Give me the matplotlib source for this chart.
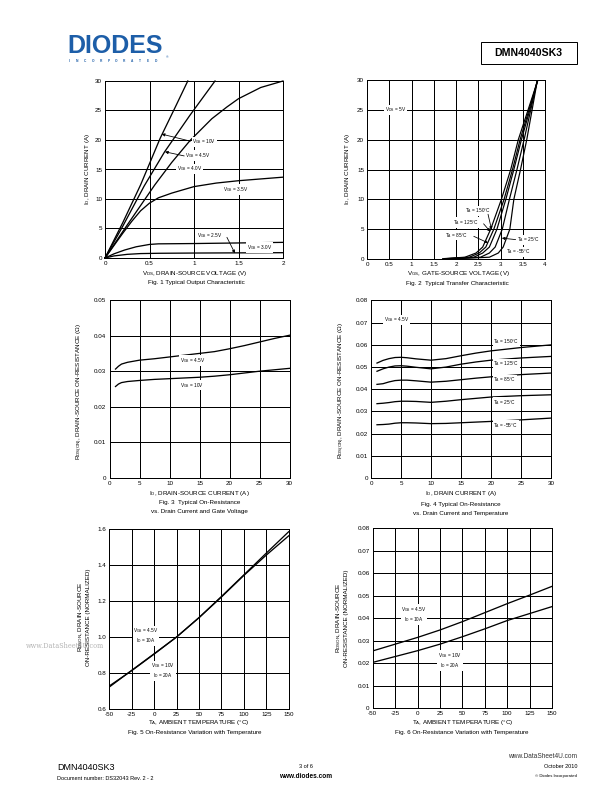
import matplotlib
matplotlib.use("Agg")
import matplotlib.pyplot as plt
from matplotlib.patches import Rectangle
from matplotlib.lines import Line2D

plt.rcParams['font.family'] = ['Liberation Sans', 'DejaVu Sans']
plt.rcParams['mathtext.default'] = 'regular'

# ---- data ----
# Fig 1 : output characteristic (VDS, ID) per VGS
vds_10 = [0, 0.2, 0.4, 0.62, 0.8, 0.93]
id_10 = [0, 6.0, 12.4, 20.3, 25.9, 30]
vds_45 = [0, 0.2, 0.44, 0.67, 0.95, 1.236]
id_45 = [0, 5.4, 12.2, 18.0, 24.1, 30]
vds_40 = [0, 0.25, 0.56, 0.75, 0.955, 1.2, 1.37, 1.5, 1.75, 2.0]
id_40 = [0, 5.6, 12.4, 16.2, 19.9, 23.6, 25.6, 27.0, 28.9, 30]
vds_35 = [0, 0.1, 0.2, 0.3, 0.4, 0.5, 0.6, 0.75, 1.0, 1.25, 1.5, 1.75, 2.0]
id_35 = [0, 2.1, 4.2, 6.2, 8.0, 9.3, 10.2, 11.0, 12.1, 12.7, 13.1, 13.4, 13.7]
vds_30 = [0, 0.1, 0.22, 0.35, 0.5, 0.6, 1.0, 1.5, 2.0]
id_30 = [0, 0.7, 1.35, 1.9, 2.3, 2.4, 2.45, 2.55, 2.65]
vds_25 = [0, 0.1, 0.25, 0.4, 0.6, 1.0, 1.5, 2.0]
id_25 = [0, 0.35, 0.62, 0.75, 0.8, 0.84, 0.87, 0.9]

# Fig 2 : transfer characteristic, VGS at given ID per temperature
id_tr = [0.05, 0.3, 1, 2, 5, 10, 15, 20, 25, 30]
vgs_150 = [1.7, 2.2, 2.45, 2.6, 2.78, 3.02, 3.23, 3.40, 3.62, 3.84]
vgs_125 = [1.75, 2.3, 2.52, 2.67, 2.85, 3.08, 3.27, 3.44, 3.64, 3.84]
vgs_85 = [1.8, 2.4, 2.6, 2.75, 2.92, 3.12, 3.30, 3.47, 3.66, 3.83]
vgs_25 = [1.9, 2.55, 2.75, 2.88, 3.04, 3.20, 3.37, 3.53, 3.68, 3.83]
vgs_m55 = [2.0, 2.75, 2.95, 3.06, 3.21, 3.30, 3.45, 3.59, 3.71, 3.83]

# Fig 3 : RDS(on) vs ID and VGS
id3 = [1, 1.5, 2, 3, 5, 7.5, 10, 12.5, 15, 17.5, 20, 22.5, 25, 27.5, 30]
r3_45 = [0.0306, 0.0314, 0.0320, 0.0325, 0.0331, 0.0335, 0.0340, 0.0345,
         0.0350, 0.0355, 0.0363, 0.0372, 0.0382, 0.0392, 0.0401]
r3_10 = [0.0257, 0.0264, 0.0268, 0.0271, 0.0274, 0.0277, 0.0279, 0.0281,
         0.0283, 0.0286, 0.0290, 0.0295, 0.0300, 0.0304, 0.0308]

# Fig 4 : RDS(on) vs ID and temperature
id4 = [1, 2, 3, 4, 5, 6, 7.5, 10, 12.5, 15, 17.5, 20, 25, 30]
r4_150 = [0.0518, 0.0530, 0.0538, 0.0543, 0.0544, 0.0542, 0.0537, 0.0531,
          0.0538, 0.0551, 0.0563, 0.0573, 0.0588, 0.0600]
r4_125 = [0.0481, 0.0492, 0.0500, 0.0505, 0.0506, 0.0504, 0.0499, 0.0492,
          0.0500, 0.0513, 0.0523, 0.0531, 0.0541, 0.0548]
r4_85 = [0.0422, 0.0425, 0.0433, 0.0439, 0.0441, 0.0441, 0.0438, 0.0432,
         0.0436, 0.0443, 0.0450, 0.0456, 0.0466, 0.0473]
r4_25 = [0.0335, 0.0337, 0.0340, 0.0344, 0.0346, 0.0346, 0.0345, 0.0341,
         0.0346, 0.0353, 0.0359, 0.0365, 0.0371, 0.0375]
r4_m55 = [0.0240, 0.0241, 0.0243, 0.0247, 0.0249, 0.0249, 0.0248, 0.0245,
          0.0246, 0.0249, 0.0252, 0.0255, 0.0262, 0.0270]

# Fig 5 / Fig 6 : vs ambient temperature
temp = [-50, -25, 0, 25, 50, 75, 100, 125, 150]
n5_45 = [0.728, 0.813, 0.905, 1.0, 1.108, 1.225, 1.345, 1.466, 1.585]
n5_10 = [0.722, 0.815, 0.907, 1.0, 1.107, 1.222, 1.342, 1.455, 1.562]
r6_45 = [0.0255, 0.0285, 0.0315, 0.0348, 0.0385, 0.0425, 0.0465, 0.0503, 0.0542]
r6_10 = [0.0204, 0.0230, 0.0256, 0.0285, 0.0318, 0.0353, 0.0390, 0.0421, 0.0452]

W, H = 612.0, 792.0
fig = plt.figure(figsize=(W / 72, H / 72), dpi=72)
fig.patch.set_facecolor('white')

FS = 6.3
LFS = 4.8
box = dict(boxstyle='square,pad=0.15', fc='white', ec='none')
arw = dict(arrowstyle='-|>', color='black', lw=0.8, mutation_scale=6,
           shrinkA=0, shrinkB=0)


def ptext(x, y, s, **kw):
    kw.setdefault('va', 'center')
    kw.setdefault('ha', 'center')
    kw.setdefault('fontsize', FS)
    return fig.text(x / W, 1 - y / H, s, **kw)


def make_ax(l, r, t, b, xt, xl, yt, yl):
    ax = fig.add_axes([l / W, 1 - b / H, (r - l) / W, (b - t) / H])
    ax.set_xlim(xt[0], xt[-1])
    ax.set_ylim(yt[0], yt[-1])
    ax.set_xticks(xt, xl)
    ax.set_yticks(yt, yl)
    ax.grid(True, color='black', lw=1.0)
    ax.set_axisbelow(True)
    for s in ax.spines.values():
        s.set_linewidth(1.0)
    ax.tick_params(length=0, labelsize=FS, pad=3)
    return ax


def lbl(ax, x, y, s, **kw):
    kw.setdefault('ha', 'center')
    ax.text(x, y, s, fontsize=LFS, va='center', bbox=box, zorder=5, **kw)


def arrow(ax, tail, head):
    ax.annotate('', xy=head, xytext=tail, arrowprops=arw, zorder=6)


# ---- header ----
ptext(67, 46, 'DIODES', fontsize=25, fontweight='heavy', color='#1d5ea8', ha='left')
fig.add_artist(Line2D([66 / W, 164 / W], [1 - 47 / H, 1 - 47 / H], color='white', lw=1.2))
for i, ch in enumerate('INCORPORATED'):
    ptext(69 + i * 7.9, 60.5, ch, fontsize=3.3, fontweight='bold', color='#1d5ea8')
ptext(167, 57, '®', fontsize=3.5, color='#1d5ea8')
fig.add_artist(Rectangle((481 / W, 1 - 64.4 / H), 95.5 / W, 22.4 / H,
                         transform=fig.transFigure, fill=False, ec='black', lw=1.0))
ptext(528.7, 53.2, 'DMN4040SK3', fontsize=10.5, fontweight='bold')

# ---- Fig 1 ----
ax1 = make_ax(105, 283, 81, 258, [0, 0.5, 1, 1.5, 2], ['0', '0.5', '1', '1.5', '2'],
              [0, 5, 10, 15, 20, 25, 30], ['0', '5', '10', '15', '20', '25', '30'])
for x, y in [(vds_10, id_10), (vds_45, id_45), (vds_40, id_40), (vds_35, id_35),
             (vds_30, id_30), (vds_25, id_25)]:
    ax1.plot(x, y, color='black', lw=1.3, clip_on=False, zorder=3)
lbl(ax1, 0.98, 19.7, 'V$_{GS}$ = 10V', ha='left')
arrow(ax1, (0.96, 19.8), (0.637, 21.0))
lbl(ax1, 0.90, 17.4, 'V$_{GS}$ = 4.5V', ha='left')
arrow(ax1, (0.89, 17.3), (0.674, 18.0))
lbl(ax1, 0.81, 15.1, 'V$_{GS}$ = 4.0V', ha='left')
lbl(ax1, 1.33, 11.6, 'V$_{GS}$ = 3.5V', ha='left')
lbl(ax1, 1.03, 3.8, 'V$_{GS}$ = 2.5V', ha='left')
arrow(ax1, (1.37, 3.5), (1.46, 0.8))
lbl(ax1, 1.59, 1.8, 'V$_{GS}$ = 3.0V', ha='left')
ptext(87, 169.5, 'I$_D$, DRAIN CURRENT (A)', rotation=90)
ptext(195, 273.3, 'V$_{DS}$, DRAIN-SOURCE VOLTAGE (V)')
ptext(196, 283, 'Fig. 1 Typical Output Characteristic')

# ---- Fig 2 ----
ax2 = make_ax(367, 545, 80, 259, [0, 0.5, 1, 1.5, 2, 2.5, 3, 3.5, 4],
              ['0', '0.5', '1', '1.5', '2', '2.5', '3', '3.5', '4'],
              [0, 5, 10, 15, 20, 25, 30], ['0', '5', '10', '15', '20', '25', '30'])
for v in [vgs_150, vgs_125, vgs_85, vgs_25, vgs_m55]:
    ax2.plot(v, id_tr, color='black', lw=1.2, zorder=3)
lbl(ax2, 0.4, 25, 'V$_{DS}$ = 5V', ha='left')
lbl(ax2, 2.2, 8.1, 'T$_A$ = 150°C', ha='left')
arrow(ax2, (2.72, 7.5), (2.80, 4.9))
lbl(ax2, 1.94, 6.1, 'T$_A$ = 125°C', ha='left')
arrow(ax2, (2.62, 5.9), (2.77, 4.6))
lbl(ax2, 1.75, 4.0, 'T$_A$ = 85°C', ha='left')
arrow(ax2, (2.40, 3.8), (2.72, 2.7))
lbl(ax2, 3.36, 3.2, 'T$_A$ = 25°C', ha='left')
arrow(ax2, (3.34, 3.25), (3.03, 3.5))
lbl(ax2, 3.13, 1.17, 'T$_A$ = -55°C', ha='left')
ptext(347, 169.5, 'I$_D$, DRAIN CURRENT (A)', rotation=90)
ptext(458, 273.8, 'V$_{GS}$, GATE-SOURCE VOLTAGE (V)')
ptext(457, 283.5, 'Fig. 2  Typical Transfer Characteristic')

# ---- Fig 3 ----
ax3 = make_ax(109.5, 289.5, 300, 478, [0, 5, 10, 15, 20, 25, 30],
              ['0', '5', '10', '15', '20', '25', '30'],
              [0, 0.01, 0.02, 0.03, 0.04, 0.05], ['0', '0.01', '0.02', '0.03', '0.04', '0.05'])
ax3.plot(id3, r3_45, color='black', lw=1.3, zorder=3)
ax3.plot(id3, r3_10, color='black', lw=1.3, zorder=3)
lbl(ax3, 13.8, 0.0330, 'V$_{GS}$ = 4.5V')
lbl(ax3, 13.7, 0.0261, 'V$_{GS}$ = 10V')
ptext(80, 391, 'R$_{DS(ON)}$, DRAIN-SOURCE ON-RESISTANCE (Ω)', rotation=90)
ptext(199.5, 493.5, 'I$_D$, DRAIN-SOURCE CURRENT (A)')
ptext(199.5, 503, 'Fig. 3  Typical On-Resistance')
ptext(199.5, 512, 'vs. Drain Current and Gate Voltage')

# ---- Fig 4 ----
ax4 = make_ax(371, 551, 300.5, 478, [0, 5, 10, 15, 20, 25, 30],
              ['0', '5', '10', '15', '20', '25', '30'],
              [0, 0.01, 0.02, 0.03, 0.04, 0.05, 0.06, 0.07, 0.08],
              ['0', '0.01', '0.02', '0.03', '0.04', '0.05', '0.06', '0.07', '0.08'])
for r in [r4_150, r4_125, r4_85, r4_25, r4_m55]:
    ax4.plot(id4, r, color='black', lw=1.3, zorder=3)
lbl(ax4, 2.1, 0.0713, 'V$_{GS}$ = 4.5V', ha='left')
lbl(ax4, 20.4, 0.0615, 'T$_A$ = 150°C', ha='left')
lbl(ax4, 20.4, 0.0515, 'T$_A$ = 125°C', ha='left')
lbl(ax4, 20.4, 0.0443, 'T$_A$ = 85°C', ha='left')
lbl(ax4, 20.4, 0.0341, 'T$_A$ = 25°C', ha='left')
lbl(ax4, 20.4, 0.0236, 'T$_A$ = -55°C', ha='left')
ptext(341.5, 390, 'R$_{DS(ON)}$, DRAIN-SOURCE ON-RESISTANCE (Ω)', rotation=90)
ptext(461, 494, 'I$_D$, DRAIN CURRENT (A)')
ptext(461, 504.5, 'Fig. 4 Typical On-Resistance')
ptext(461, 514, 'vs. Drain Current and Temperature')

# watermark sits behind fig 5 (partly under the y label, as on the page)
ptext(65, 645.5, 'www.DataSheet4U.com', fontsize=6.5, family='DejaVu Serif',
      color='#b4b4b4', zorder=0)

# ---- Fig 5 ----
ax5 = make_ax(109.3, 288.7, 529, 709, [-50, -25, 0, 25, 50, 75, 100, 125, 150],
              ['-50', '-25', '0', '25', '50', '75', '100', '125', '150'],
              [0.6, 0.8, 1.0, 1.2, 1.4, 1.6], ['0.6', '0.8', '1.0', '1.2', '1.4', '1.6'])
ax5.plot(temp, n5_45, color='black', lw=1.3, zorder=3)
ax5.plot(temp, n5_10, color='black', lw=1.3, zorder=3)
lbl(ax5, -9, 1.007, 'V$_{GS}$ = 4.5V\nI$_D$ = 10A')
lbl(ax5, 10, 0.812, 'V$_{GS}$ = 10V\nI$_D$ = 20A')
ptext(83.5, 617, 'R$_{DSON}$, DRAIN-SOURCE\nON-RESISTANCE (NORMALIZED)', rotation=90,
      linespacing=1.25)
ptext(198.5, 722.7, 'T$_A$, AMBIENT TEMPERATURE (°C)')
ptext(195, 732.3, 'Fig. 5 On-Resistance Variation with Temperature')

# ---- Fig 6 ----
ax6 = make_ax(372.7, 552, 528.3, 708.3, [-50, -25, 0, 25, 50, 75, 100, 125, 150],
              ['-50', '-25', '0', '25', '50', '75', '100', '125', '150'],
              [0, 0.01, 0.02, 0.03, 0.04, 0.05, 0.06, 0.07, 0.08],
              ['0', '0.01', '0.02', '0.03', '0.04', '0.05', '0.06', '0.07', '0.08'])
ax6.plot(temp, r6_45, color='black', lw=1.3, zorder=3)
ax6.plot(temp, r6_10, color='black', lw=1.3, zorder=3)
lbl(ax6, -4, 0.0416, 'V$_{GS}$ = 4.5V\nI$_D$ = 10A')
lbl(ax6, 36, 0.0213, 'V$_{GS}$ = 10V\nI$_D$ = 20A')
ptext(342, 618, 'R$_{DSON}$, DRAIN-SOURCE\nON-RESISTANCE (NORMALIZED)', rotation=90,
      linespacing=1.25)
ptext(463, 722.7, 'T$_A$, AMBIENT TEMPERATURE (°C)')
ptext(462, 732.3, 'Fig. 6 On-Resistance Variation with Temperature')

# ---- footer ----
ptext(577, 756.5, 'www.DataSheet4U.com', fontsize=6.5, ha='right', color='#333333')
ptext(57, 767, 'DMN4040SK3', fontsize=9, ha='left')
ptext(57, 778, 'Document number: DS32043 Rev. 2 - 2', fontsize=5.5, ha='left')
ptext(306, 766.5, '3 of 6', fontsize=5.5)
ptext(306, 777, 'www.diodes.com', fontsize=6.5, fontweight='bold')
ptext(577, 767, 'October 2010', fontsize=5.5, ha='right')
ptext(577, 776.5, '© Diodes Incorporated', fontsize=4.2, ha='right')

fig.savefig('out.png', dpi=72)
